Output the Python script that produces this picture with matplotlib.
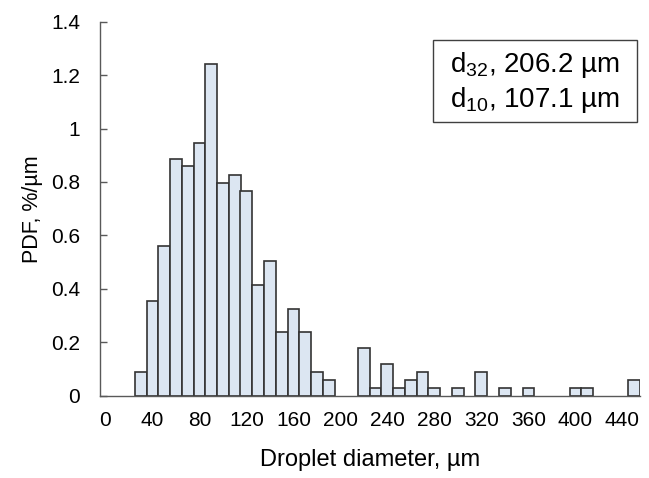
import numpy as np
import matplotlib
matplotlib.use("Agg")
import matplotlib.pyplot as plt
from matplotlib.ticker import FuncFormatter
from matplotlib.patches import Rectangle

plt.rcParams['font.family'] = ['Liberation Sans', 'DejaVu Sans']
plt.rcParams['mathtext.fontset'] = 'custom'
plt.rcParams['mathtext.rm'] = 'Liberation Sans'

# Bin centres (um) and PDF values (%/um)
diametro = [30, 40, 50, 60, 70, 80, 90, 100, 110, 120, 130, 140, 150, 160,
            170, 180, 190, 220, 230, 240, 250, 260, 270, 280, 300, 320, 340,
            360, 400, 410, 450]
pdf = [0.089, 0.355, 0.562, 0.886, 0.858, 0.946, 1.242, 0.797, 0.827, 0.768,
       0.413, 0.503, 0.237, 0.325, 0.237, 0.089, 0.059, 0.178, 0.030, 0.118,
       0.030, 0.059, 0.089, 0.030, 0.030, 0.089, 0.030, 0.030, 0.030, 0.030,
       0.059]
xticks = list(range(0, 441, 40))
yticks = [0, 0.2, 0.4, 0.6, 0.8, 1.0, 1.2, 1.4]
texto = "d$_\\mathrm{32}$, 206.2 µm\nd$_\\mathrm{10}$, 107.1 µm"

W, H = 649, 478
fig = plt.figure(figsize=(W / 100, H / 100), dpi=100)
ax = fig.add_axes([99.5 / W, 1 - 395.7 / H, (640 - 99.5) / W, (395.7 - 21.7) / H])

ax.bar(diametro, pdf, width=10, color="#DCE6F2", edgecolor="#333333", linewidth=1.2)

ax.set_xlim(-5, 455)
ax.set_ylim(0, 1.4)
ax.set_xticks(xticks)
ax.set_yticks(yticks)
ax.yaxis.set_major_formatter(FuncFormatter(lambda v, p: f"{v:g}"))

for s in ["top", "right"]:
    ax.spines[s].set_visible(False)
for s in ["left", "bottom"]:
    ax.spines[s].set_color("#595959")
    ax.spines[s].set_linewidth(1.0)

ax.tick_params(axis="y", direction="in", length=5, width=1.0, color="#595959",
               labelsize=15, pad=14)
ax.tick_params(axis="x", length=0, labelsize=15, pad=11)

ax.set_xlabel("Droplet diameter, µm", fontsize=17, labelpad=14)
ax.set_ylabel("PDF, %/µm", fontsize=15.5, labelpad=6)

# caja con d32 y d10
x0, y0, x1, y1 = 433, 40, 637, 122
fig.patches.append(Rectangle((x0 / W, 1 - y1 / H), (x1 - x0) / W, (y1 - y0) / H,
                             transform=fig.transFigure, facecolor="white",
                             edgecolor="#404040", linewidth=1.0))
fig.text((x0 + x1) / 2 / W, 1 - (y0 + y1) / 2 / H - 0.003, texto, ha="center", va="center",
         fontsize=20, linespacing=1.2)

fig.savefig("out.png", dpi=100)
